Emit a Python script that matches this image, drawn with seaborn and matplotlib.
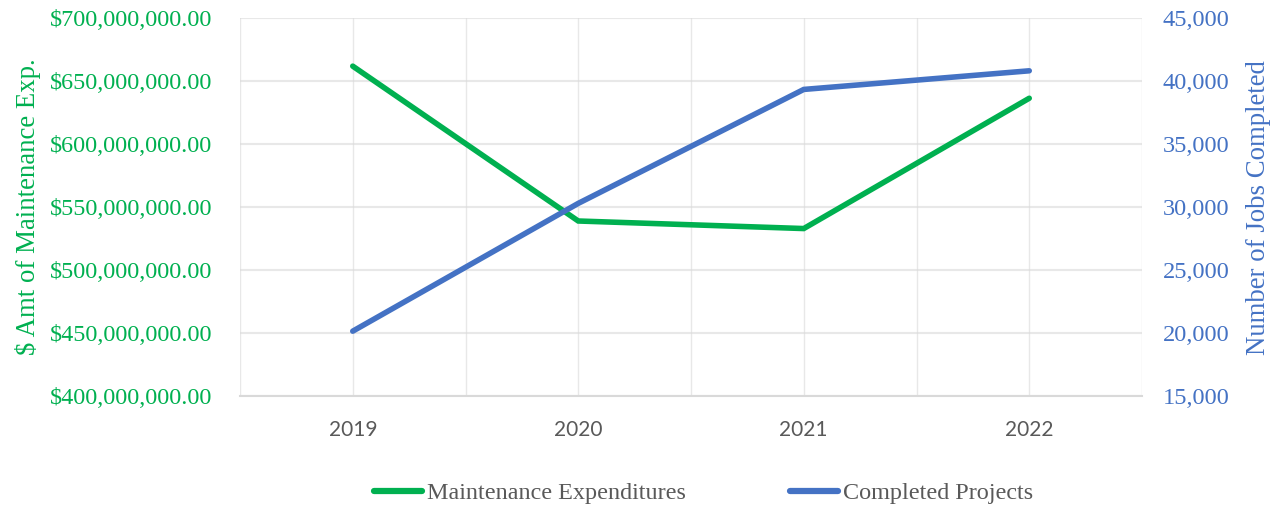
import matplotlib
matplotlib.use("Agg")
import matplotlib.pyplot as plt
import seaborn as sns
import pandas as pd
import numpy as np
from matplotlib.ticker import FuncFormatter, MultipleLocator
from matplotlib.lines import Line2D

years = ["2019", "2020", "2021", "2022"]
maintenance = [662_000_000, 539_000_000, 533_000_000, 636_500_000]
completed = [20_150, 30_300, 39_350, 40_830]

green = "#00B050"
blue = "#4472C4"
grid_c = "#D9D9D9"
text_gray = "#595959"

sns.set_style("white")
plt.rcParams["font.family"] = ["Liberation Serif", "DejaVu Serif"]

df = pd.DataFrame({"year": years, "x": np.arange(len(years)),
                   "maintenance": maintenance, "completed": completed})

fig = plt.figure(figsize=(12.81, 5.08), dpi=100)
ax = fig.add_axes([240/1281, 1-396/508, (1142-240)/1281, (396-18.3)/508])
ax2 = ax.twinx()

sns.lineplot(data=df, x="x", y="maintenance", ax=ax, color=green, linewidth=4.0,
             solid_capstyle="round", solid_joinstyle="miter", zorder=3)
sns.lineplot(data=df, x="x", y="completed", ax=ax2, color=blue, linewidth=4.0,
             solid_capstyle="round", solid_joinstyle="miter", zorder=3)

ax.set_xlim(-0.5, len(years) - 0.5)
ax.set_ylim(400_000_000, 700_000_000)
ax2.set_ylim(15_000, 45_000)
ax.yaxis.set_major_locator(MultipleLocator(50_000_000))
ax2.yaxis.set_major_locator(MultipleLocator(5_000))
ax.yaxis.set_major_formatter(FuncFormatter(lambda v, p: f"${v:,.2f}"))
ax2.yaxis.set_major_formatter(FuncFormatter(lambda v, p: f"{v:,.0f}"))

ax.set_xticks(np.arange(len(years)))
ax.set_xticklabels(years, family=["Lato", "DejaVu Sans"], color=text_gray, fontsize=15)
ax.set_xticks(np.arange(-0.5, len(years), 1.0), minor=True)

ax.grid(True, which="major", axis="both", color=grid_c, linewidth=1.0, alpha=0.6)
ax.grid(True, which="minor", axis="x", color=grid_c, linewidth=1.0, alpha=0.6)
ax.grid(True, which="major", axis="y", color=grid_c, linewidth=1.5)
ax.set_axisbelow(True)
ax2.grid(False)
ax2.set_zorder(ax.get_zorder() + 1)
ax2.patch.set_visible(False)

for a in (ax, ax2):
    for s in a.spines.values():
        s.set_visible(False)
ax.spines["bottom"].set_visible(True)
ax.spines["bottom"].set_color(grid_c)
ax.spines["bottom"].set_linewidth(1.5)

ax.tick_params(axis="y", colors=green, labelsize=17.4, length=0, pad=20)
ax2.tick_params(axis="y", colors=blue, labelsize=17.6, length=0, pad=15)
ax.tick_params(axis="x", which="both", length=0, pad=17)
for lab in ax.get_yticklabels():
    lab.set_color(green)
for lab in ax2.get_yticklabels():
    lab.set_color(blue)

ax.set_xlabel("")
ax.set_ylabel("$ Amt of Maintenance Exp.", color=green, fontsize=19.3, labelpad=6)
ax2.set_ylabel("Number of Jobs Completed", color=blue, fontsize=19.3, labelpad=12)

handles = [Line2D([0], [0], color=green, linewidth=4.5, solid_capstyle="round"),
           Line2D([0], [0], color=blue, linewidth=4.5, solid_capstyle="round")]
leg = fig.legend(handles, ["Maintenance Expenditures", "Completed Projects"],
                 loc="center", bbox_to_anchor=(703.5/1281, 1-493/508), ncol=2,
                 frameon=False, fontsize=17.4, handlelength=2.0, handletextpad=0.2,
                 columnspacing=4.3)
for t in leg.get_texts():
    t.set_color(text_gray)

fig.savefig("out.png", dpi=100)
